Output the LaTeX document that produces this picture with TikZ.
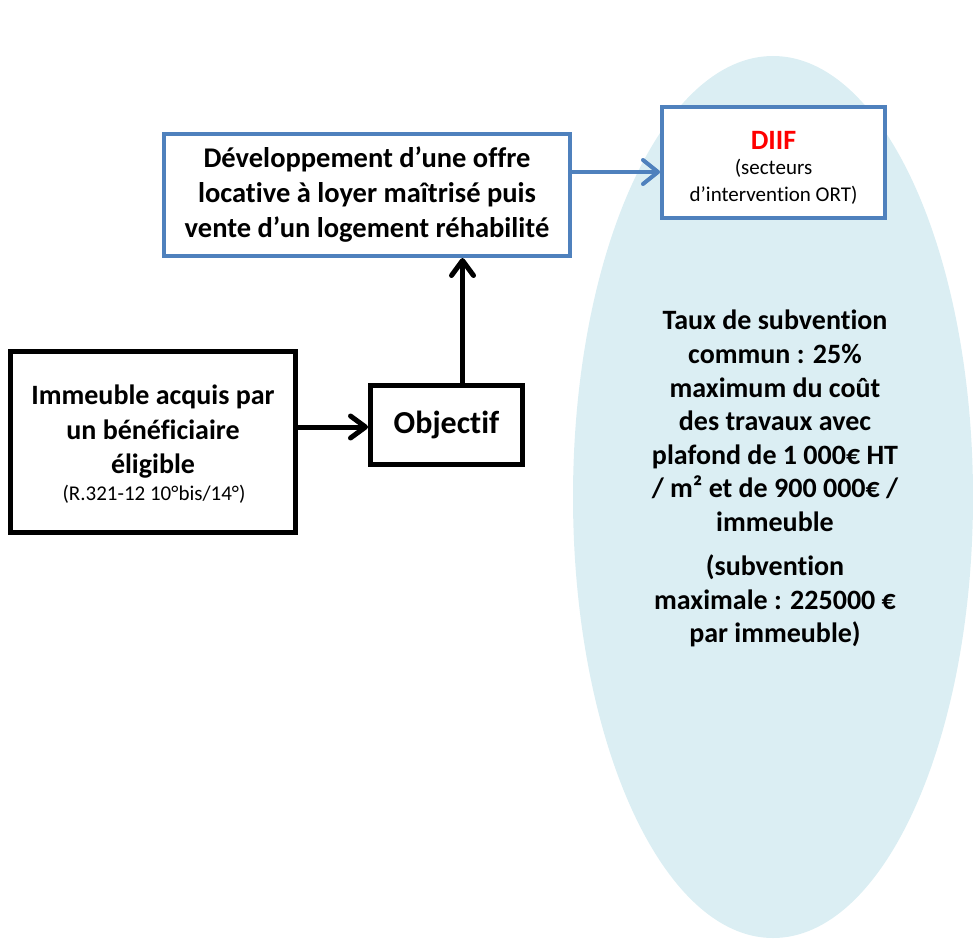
\documentclass[tikz,border=0pt]{standalone}
\usepackage{fontspec}
\setmainfont{Carlito}[Ligatures=NoCommon]
\usetikzlibrary{arrows.meta,shapes.geometric}
\definecolor{boxblue}{HTML}{4F81BD}
\definecolor{ellblue}{HTML}{DBEEF3}
\definecolor{diifred}{HTML}{FF0000}
\tikzset{
  bluebox/.style={draw=boxblue, line width=4pt, fill=white, rectangle, align=center, inner sep=0pt},
  blackbox/.style={draw=black, line width=5pt, fill=white, rectangle, align=center, inner sep=0pt},
  txt/.style={align=center, inner sep=0pt},
  bluearrow/.style={draw=boxblue, line width=4pt, -{Straight Barb[length=15pt,width=24pt,line width=4pt,line cap=round,line join=round]}},
  blackarrow/.style={draw=black, line width=5pt, -{Straight Barb[length=15pt,width=22pt,line width=5pt,line cap=round,line join=round]}},
  elltext/.style={align=center, font=\bfseries\fontsize{28}{33.6}\selectfont, inner sep=0pt}
}
\begin{document}
\begin{tikzpicture}[x=1pt,y=-1pt]
\useasboundingbox (0,0) rectangle (973,939);
% ellipse
\node[ellipse, fill=ellblue, minimum width=400pt, minimum height=882pt, inner sep=0pt] (ell) at (773,497) {};
% boxes
\node[bluebox, minimum width=406pt, minimum height=122pt,
      font=\bfseries\fontsize{28.5}{35}\selectfont] (dev) at (367,195)
  {Développement d’une offre\\locative à loyer maîtrisé puis\\vente d’un logement réhabilité};
\node[bluebox, minimum width=223pt, minimum height=111pt] (diif) at (773.5,162.5) {};
\node[txt, font=\bfseries\fontsize{28}{30}\selectfont, text=diifred] (diift) at (773.5,140) {DIIF};
\node[txt, font=\fontsize{21}{27}\selectfont] (sect) at (773.5,182) {(secteurs\\d’intervention ORT)};
\node[blackbox, minimum width=285pt, minimum height=181pt] (imm) at (153,442) {};
\node[txt, font=\bfseries\fontsize{28}{34.5}\selectfont] (immt) at (153,432)
  {Immeuble acquis par\\un bénéficiaire\\éligible};
\node[txt, font=\fontsize{21}{24}\selectfont] (imms) at (154,494) {(R.321-12 10°bis/14°)};
\node[blackbox, minimum width=152pt, minimum height=79pt,
      font=\bfseries\fontsize{32}{36}\selectfont] (obj) at (446.5,425) {Objectif};
% ellipse text
\node[elltext] (t1) at (775,421)
  {Taux de subvention\\commun : 25\%\\maximum du coût\\des travaux avec\\plafond de 1 000€ HT\\/ m² et de 900 000€ /\\immeuble};
\node[elltext] (t2) at (775,601)
  {(subvention\\maximale : 225000 €\\par immeuble)};
% arrows
\draw[bluearrow] ([yshift=23pt]dev.east) -- ([yshift=23pt]dev.east -| diif.west);
\draw[blackarrow] ([yshift=-2pt]imm.east |- obj.west) -- ([yshift=-2pt]obj.west);
\draw[blackarrow] ([xshift=16pt]obj.north) -- ([xshift=16pt]obj.north |- dev.south);
\end{tikzpicture}
\end{document}
